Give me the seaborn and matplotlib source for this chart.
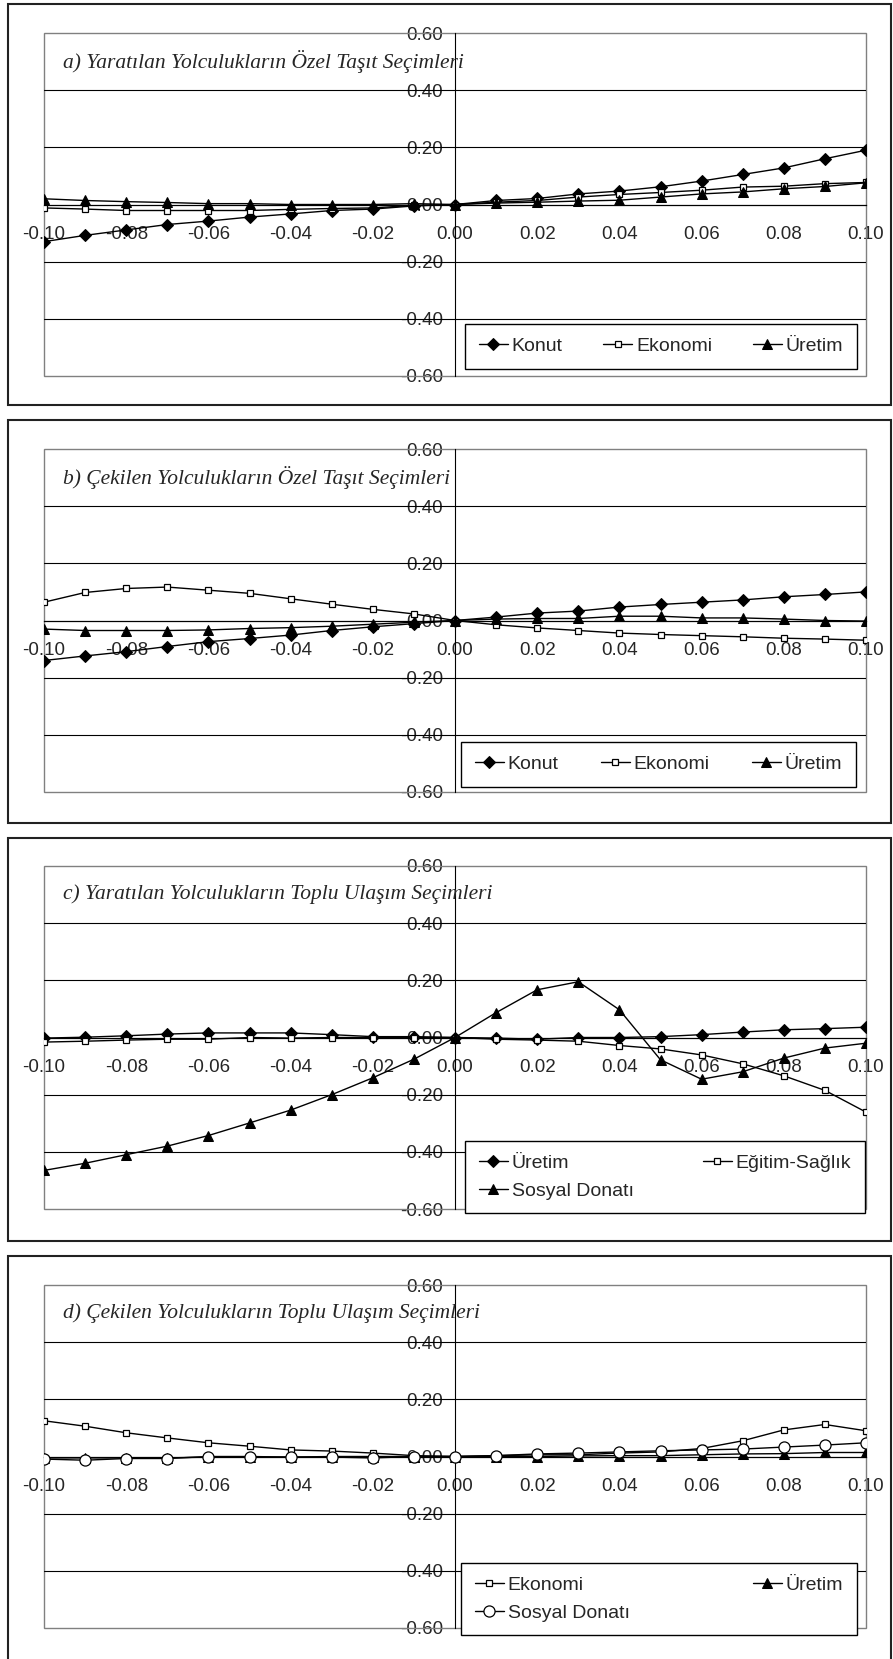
"""
Elasticity curves of mode choice for generated / attracted trips (4 panels)
"""

import seaborn as sns
import matplotlib.pyplot as plt
from matplotlib.patches import Rectangle

# x values (change ratio)
X = [-0.10, -0.09, -0.08, -0.07, -0.06, -0.05, -0.04, -0.03, -0.02, -0.01, 0.00,
     0.01, 0.02, 0.03, 0.04, 0.05, 0.06, 0.07, 0.08, 0.09, 0.10]

X_TICKS = [-0.10, -0.08, -0.06, -0.04, -0.02, 0.00, 0.02, 0.04, 0.06, 0.08, 0.10]
X_LABELS = ["-0.10", "-0.08", "-0.06", "-0.04", "-0.02", "0.00",
            "0.02", "0.04", "0.06", "0.08", "0.10"]
Y_TICKS = [-0.60, -0.40, -0.20, 0.00, 0.20, 0.40, 0.60]
Y_LABELS = ["-0.60", "-0.40", "-0.20", "0.00", "0.20", "0.40", "0.60"]

# a) Yaratılan - Özel Taşıt
a_konut = [-0.130, -0.108, -0.089, -0.070, -0.058, -0.044, -0.033, -0.021, -0.016, -0.005, 0.0,
           0.014, 0.021, 0.037, 0.047, 0.062, 0.082, 0.105, 0.128, 0.160, 0.190]
a_ekonomi = [-0.012, -0.016, -0.021, -0.021, -0.021, -0.021, -0.017, -0.014, -0.012, -0.003, 0.0,
             0.008, 0.014, 0.026, 0.035, 0.042, 0.050, 0.061, 0.064, 0.073, 0.077]
a_uretim = [0.020, 0.014, 0.010, 0.007, 0.003, 0.003, 0.000, 0.000, 0.000, 0.003, 0.0,
            0.005, 0.008, 0.012, 0.015, 0.026, 0.037, 0.044, 0.055, 0.063, 0.076]

# b) Çekilen - Özel Taşıt
b_konut = [-0.140, -0.124, -0.109, -0.091, -0.074, -0.063, -0.051, -0.035, -0.022, -0.011, 0.0,
           0.012, 0.026, 0.033, 0.047, 0.056, 0.064, 0.072, 0.083, 0.091, 0.100]
b_ekonomi = [0.064, 0.098, 0.112, 0.117, 0.106, 0.095, 0.076, 0.057, 0.039, 0.023, 0.0,
             -0.015, -0.026, -0.035, -0.044, -0.049, -0.053, -0.057, -0.062, -0.065, -0.069]
b_uretim = [-0.030, -0.035, -0.035, -0.035, -0.033, -0.028, -0.025, -0.020, -0.013, -0.006, 0.0,
            0.005, 0.007, 0.007, 0.015, 0.015, 0.009, 0.009, 0.005, 0.000, -0.002]

# c) Yaratılan - Toplu Ulaşım
c_uretim = [-0.002, 0.001, 0.006, 0.012, 0.016, 0.016, 0.016, 0.010, 0.003, 0.003, 0.0,
            -0.002, -0.006, 0.000, 0.000, 0.003, 0.010, 0.019, 0.027, 0.031, 0.036]
c_egitim = [-0.016, -0.013, -0.009, -0.006, -0.006, 0.000, -0.002, 0.000, 0.000, 0.000, 0.0,
            -0.006, -0.009, -0.013, -0.028, -0.040, -0.061, -0.092, -0.134, -0.185, -0.261]
c_sosyal = [-0.465, -0.440, -0.410, -0.380, -0.343, -0.299, -0.254, -0.200, -0.141, -0.076, 0.0,
            0.087, 0.167, 0.195, 0.097, -0.078, -0.146, -0.120, -0.072, -0.037, -0.020]

# d) Çekilen - Toplu Ulaşım
d_ekonomi = [0.125, 0.106, 0.083, 0.065, 0.048, 0.036, 0.023, 0.019, 0.012, 0.003, 0.0,
             0.003, 0.006, 0.006, 0.012, 0.016, 0.028, 0.055, 0.093, 0.112, 0.090]
d_uretim = [-0.005, -0.005, -0.005, -0.005, -0.002, -0.002, -0.002, 0.000, 0.000, 0.000, 0.0,
            0.000, 0.000, 0.002, 0.003, 0.003, 0.006, 0.009, 0.010, 0.014, 0.014]
d_sosyal = [-0.009, -0.013, -0.007, -0.007, 0.000, 0.000, -0.002, -0.002, -0.005, 0.000, 0.0,
            0.003, 0.009, 0.012, 0.016, 0.020, 0.023, 0.026, 0.033, 0.040, 0.048]

MARKERS = {
    "diamond": dict(marker="D", markersize=6.5, markerfacecolor="black", markeredgecolor="black"),
    "square": dict(marker="s", markersize=5, markerfacecolor="white",
                   markeredgecolor="black", markeredgewidth=0.9),
    "triangle": dict(marker="^", markersize=7, markerfacecolor="black", markeredgecolor="black"),
    "circle": dict(marker="o", markersize=8, markerfacecolor="white",
                   markeredgecolor="black", markeredgewidth=0.9),
}

# title, series, legend columns, plot top (px), border (top, bottom px), legend box px
PANELS = [
    ("a) Yaratılan Yolculukların Özel Taşıt Seçimleri",
     [("Konut", a_konut, "diamond"), ("Ekonomi", a_ekonomi, "square"), ("Üretim", a_uretim, "triangle")],
     3, 33, (4, 405), (465, 324, 857, 369)),
    ("b) Çekilen Yolculukların Özel Taşıt Seçimleri",
     [("Konut", b_konut, "diamond"), ("Ekonomi", b_ekonomi, "square"), ("Üretim", b_uretim, "triangle")],
     3, 449, (420, 823), (461, 742, 856, 787)),
    ("c) Yaratılan Yolculukların Toplu Ulaşım Seçimleri",
     [("Üretim", c_uretim, "diamond"), ("Eğitim-Sağlık", c_egitim, "square"),
      ("Sosyal Donatı", c_sosyal, "triangle")],
     2, 866, (838, 1241), (465, 1141, 865, 1208)),
    ("d) Çekilen Yolculukların Toplu Ulaşım Seçimleri",
     [("Ekonomi", d_ekonomi, "square"), ("Üretim", d_uretim, "triangle"),
      ("Sosyal Donatı", d_sosyal, "circle")],
     2, 1285, (1256, 1662), (461, 1563, 857, 1623)),
]

W, H = 893, 1659
PLOT_X0, PLOT_W, PLOT_H = 44, 822, 343


def main():
    sns.set_style("white")
    plt.rcParams["font.family"] = ["Liberation Sans", "DejaVu Sans"]

    fig = plt.figure(figsize=(W / 100, H / 100), dpi=100)
    fig.patch.set_facecolor("white")

    for title, series, ncol, top, (bt, bb), (lx0, ly0, lx1, ly1) in PANELS:
        # outer chart border
        fig.add_artist(Rectangle((8 / W, 1 - bb / H), (891 - 8) / W, (bb - bt) / H,
                                 transform=fig.transFigure, fill=False,
                                 edgecolor="#222222", linewidth=1.5))

        ax = fig.add_axes([PLOT_X0 / W, 1 - (top + PLOT_H) / H, PLOT_W / W, PLOT_H / H])

        for name, vals, mk in series:
            sns.lineplot(x=X, y=vals, ax=ax, color="black", linewidth=1.0,
                         label=name, zorder=3, **MARKERS[mk])

        ax.set_xlim(-0.10, 0.10)
        ax.set_ylim(-0.60, 0.60)
        ax.set_xlabel("")
        ax.set_ylabel("")

        # plot area frame and gridlines
        ax.add_patch(Rectangle((0, 0), 1, 1, transform=ax.transAxes, fill=False,
                               edgecolor="#808080", linewidth=1.0, zorder=1, clip_on=False))
        for yv in [-0.4, -0.2, 0.2, 0.4]:
            ax.axhline(yv, color="black", linewidth=0.8, zorder=1)

        for s in ["top", "right"]:
            ax.spines[s].set_visible(False)
        ax.spines["left"].set_position(("data", 0))
        ax.spines["bottom"].set_position(("data", 0))
        ax.spines["left"].set_color("black")
        ax.spines["bottom"].set_color("black")
        ax.spines["left"].set_linewidth(0.8)
        ax.spines["bottom"].set_linewidth(0.9)

        ax.set_xticks(X_TICKS)
        ax.set_xticklabels(X_LABELS)
        ax.set_yticks(Y_TICKS)
        ax.set_yticklabels(Y_LABELS)
        ax.tick_params(axis="x", direction="out", length=4.5, width=0.8, pad=11, labelsize=13.5)
        ax.tick_params(axis="y", direction="out", length=4.5, width=0.8, pad=4, labelsize=13.5)

        ax.text(-0.0954, 0.50, title, fontfamily="Liberation Serif", fontstyle="italic",
                fontsize=15.5, ha="left", va="center", zorder=4)

        handles, labels = ax.get_legend_handles_labels()
        if ncol == 2:
            # fill the legend row by row, as in the original
            order = [0, 2, 1]
            handles = [handles[i] for i in order]
            labels = [labels[i] for i in order]
        leg = ax.legend(handles, labels, ncol=ncol, loc="upper left", mode="expand",
                        bbox_to_anchor=(lx0 / W, 1 - ly1 / H, (lx1 - lx0) / W, (ly1 - ly0) / H),
                        bbox_transform=fig.transFigure, borderaxespad=0,
                        frameon=True, fancybox=False, framealpha=1, edgecolor="black",
                        fontsize=14, handlelength=1.5, handletextpad=0.2,
                        borderpad=0.7, labelspacing=0.5, columnspacing=1.0)
        leg.get_frame().set_linewidth(1.0)
        leg.set_zorder(5)

    fig.savefig("out.png", dpi=100)


if __name__ == "__main__":
    main()
